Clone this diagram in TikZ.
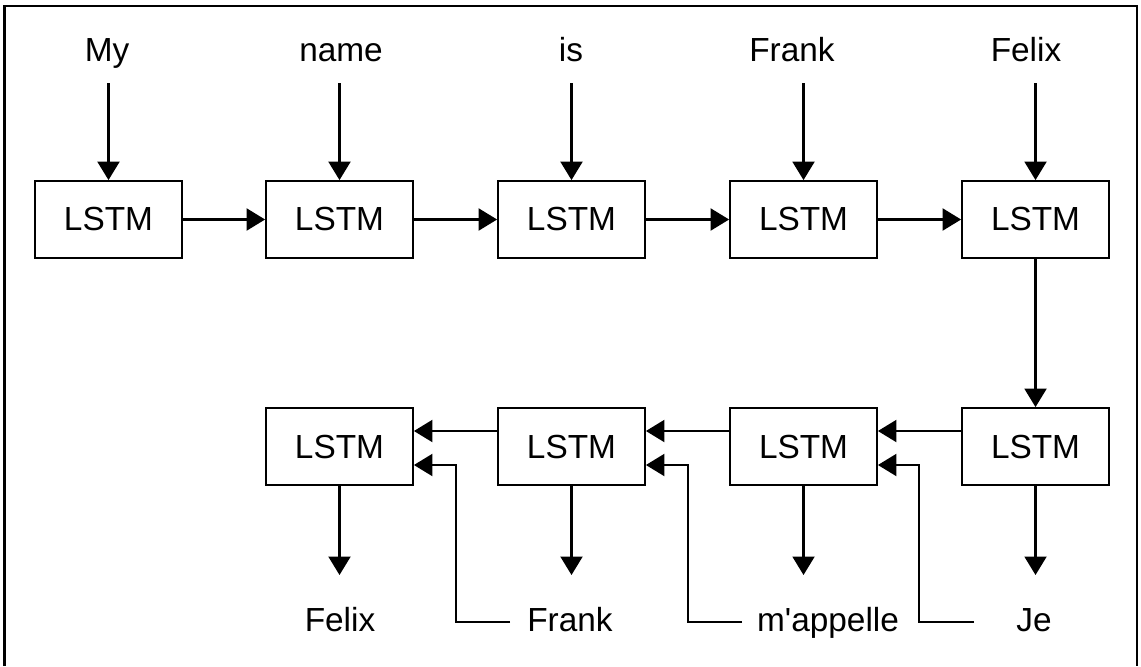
\documentclass[tikz,border=0pt]{standalone}
\usepackage{fontspec}
\setmainfont{Liberation Sans}
\usetikzlibrary{arrows.meta}
\begin{document}
\begin{tikzpicture}[x=0.02cm,y=-0.02cm,
  lstm/.style={draw,line width=1.05pt,minimum width=2.94cm,minimum height=1.54cm,inner sep=0pt,
    font=\fontsize{19}{23}\selectfont},
  word/.style={anchor=base,inner sep=0pt,font=\fontsize{19}{23}\selectfont},
  arr/.style={line width=1.2pt,-{Triangle[length=0.37cm,width=0.44cm]}}]
\useasboundingbox (0,0) rectangle (1141,666);
\draw[line width=1.5pt] (4.5,666) -- (4.5,6) -- (1137,6) -- (1137,666);
% top row
\node[lstm] (T1) at (108.5,219.5) {LSTM};
\node[lstm] (T2) at (339.5,219.5) {LSTM};
\node[lstm] (T3) at (571.5,219.5) {LSTM};
\node[lstm] (T4) at (803.5,219.5) {LSTM};
\node[lstm] (T5) at (1035.5,219.5) {LSTM};
% bottom row
\node[lstm] (B1) at (339.5,446.5) {LSTM};
\node[lstm] (B2) at (571.5,446.5) {LSTM};
\node[lstm] (B3) at (803.5,446.5) {LSTM};
\node[lstm] (B4) at (1035.5,446.5) {LSTM};
% input words
\node[word] (w1) at (107,61) {My};
\node[word] (w2) at (341,61) {name};
\node[word] (w3) at (571,61) {is};
\node[word] (w4) at (792,61) {Frank};
\node[word] (w5) at (1026,61) {Felix};
% output words
\node[word] (o1) at (340,631) {Felix};
\node[word] (o2) at (570,631) {Frank};
\node[word] (o3) at (828,631) {m\textquotesingle appelle};
\node[word] (o4) at (1034,631) {Je};
% input arrow starts
\coordinate (s1) at (108.5,83);
\coordinate (s2) at (339.5,83);
\coordinate (s3) at (571.5,83);
\coordinate (s4) at (803.5,83);
\coordinate (s5) at (1035.5,83);
\draw[arr] (s1) -- (T1);
\draw[arr] (s2) -- (T2);
\draw[arr] (s3) -- (T3);
\draw[arr] (s4) -- (T4);
\draw[arr] (s5) -- (T5);
% encoder chain
\draw[arr] (T1) -- (T2);
\draw[arr] (T2) -- (T3);
\draw[arr] (T3) -- (T4);
\draw[arr] (T4) -- (T5);
\draw[arr] (T5) -- (B4);
% decoder chain
\draw[arr] ([yshift=0.31cm]B4.west) -- ([yshift=0.31cm]B3.east);
\draw[arr] ([yshift=0.31cm]B3.west) -- ([yshift=0.31cm]B2.east);
\draw[arr] ([yshift=0.31cm]B2.west) -- ([yshift=0.31cm]B1.east);
% outputs
\coordinate (e1) at (339.5,575);
\coordinate (e2) at (571.5,575);
\coordinate (e3) at (803.5,575);
\coordinate (e4) at (1035.5,575);
\draw[arr] (B1) -- (e1);
\draw[arr] (B2) -- (e2);
\draw[arr] (B3) -- (e3);
\draw[arr] (B4) -- (e4);
% feedback
\coordinate (f1) at (510,622);
\coordinate (f2) at (742,622);
\coordinate (f3) at (974,622);
\coordinate (k1) at (456,465);
\coordinate (k2) at (688,465);
\coordinate (k3) at (919,465);
\draw[arr] (f1) -| (k1) -- (k1 -| B1.east);
\draw[arr] (f2) -| (k2) -- (k2 -| B2.east);
\draw[arr] (f3) -| (k3) -- (k3 -| B3.east);
\end{tikzpicture}
\end{document}
